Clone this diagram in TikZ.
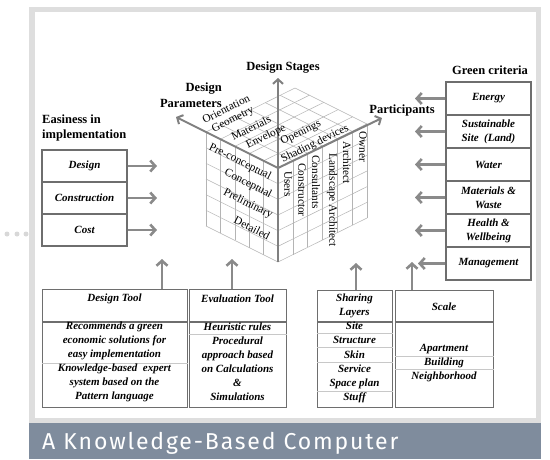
\documentclass[tikz,border=0pt]{standalone}
\usepackage{fontspec}
\setmainfont{Liberation Serif}
\newfontfamily\capfont{Fira Sans}[LetterSpace=8]
\usepackage{tikz}
\usetikzlibrary{calc}
\usetikzlibrary{arrows.meta}
\definecolor{boxgray}{HTML}{6E6E6E}
\definecolor{arrgray}{HTML}{8A8A8A}
\definecolor{axgray}{HTML}{808080}
\definecolor{cubegray}{HTML}{B4B4B4}
\definecolor{rulegray}{HTML}{C8C8C8}
\definecolor{framegray}{HTML}{DEDEDE}
\definecolor{bandblue}{HTML}{7F8C9D}
\definecolor{dotgray}{HTML}{D8D8D8}

\begin{document}
\begin{tikzpicture}[x=1pt, y=-1pt,
  hd/.style={font=\fontsize{12.5}{15.5}\selectfont\bfseries, align=center, inner sep=0pt},
  bi/.style={font=\fontsize{11}{14}\selectfont\bfseries\itshape, align=center, inner sep=0pt},
  cl/.style={font=\fontsize{11.3}{13}\selectfont, inner sep=0pt},
  crit/.style={draw=boxgray, line width=1.4pt, minimum width=85pt, minimum height=32pt, bi},
  tbox/.style={draw=boxgray, line width=1.4pt, anchor=north west, inner sep=0pt},
  garrow/.style={draw=arrgray, line width=2.6pt, -{Straight Barb[length=5pt,width=11pt]}},
  cubeaxis/.style={draw=axgray, line width=2pt, -{Straight Barb[length=4.5pt,width=10pt]}},
  cubeln/.style={draw=cubegray, line width=0.5pt},
  thinrl/.style={draw=rulegray, line width=0.6pt},
  boxrl/.style={draw=boxgray, line width=1.2pt}]

  \useasboundingbox (0,0) rectangle (550,459);
  \fill[framegray] (29,7) rectangle (541,459);
  \fill[white] (35,12) rectangle (536,418);
  \fill[bandblue] (29,423) rectangle (541,459);
  \fill[dotgray] (7,234) circle (2.5pt);
  \fill[dotgray] (17,234) circle (2.5pt);
  \fill[dotgray] (26,234) circle (2.5pt);

  \coordinate (o) at (278,168);
  \foreach \a in {0,...,5} {
    \draw[cubeln] ($(o)+\a*(-14.4,-7.2)$) -- ++(0,94);
    \draw[cubeln] ($(o)+\a*(-14.4,-7.2)$) -- ++(89,-44);
  }
  \foreach \b in {0,...,6} {
    \draw[cubeln] ($(o)+\b*(14.833,-7.333)$) -- ++(0,94);
    \draw[cubeln] ($(o)+\b*(14.833,-7.333)$) -- ++(-72,-36);
  }
  \foreach \c in {0,...,6} {
    \draw[cubeln] ($(o)+\c*(0,15.667)$) -- ++(-72,-36);
    \draw[cubeln] ($(o)+\c*(0,15.667)$) -- ++(89,-44);
  }

  \coordinate (stBase) at (278,262);
  \coordinate (stTip) at (278,78);
  \coordinate (paTip) at (176,117);
  \coordinate (ptTip) at (382,118);
  \draw[cubeaxis] (stBase) -- (stTip);
  \draw[cubeaxis] (o) -- (paTip);
  \draw[cubeaxis] (o) -- (ptTip);

  \node[cl, rotate=26.3] (orient) at (226,109) {Orientation};
  \node[cl, rotate=26.3] (geom) at (233,120) {Geometry};
  \node[cl, rotate=26.3] (mater) at (251,128) {Materials};
  \node[cl, rotate=26.3] (envel) at (266,137) {Envelope};
  \node[cl, rotate=26.3] (openg) at (301,133) {Openings};
  \node[cl, rotate=26.3] (shade) at (315,144) {Shading devices};

  \node[cl, rotate=-26.6] (precon) at (240,162) {Pre-conceptual};
  \node[cl, rotate=-26.6] (concep) at (248,184) {Conceptual};
  \node[cl, rotate=-26.6] (prelim) at (248,204) {Preliminary};
  \node[cl, rotate=-26.6] (detail) at (252,228) {Detailed};

  \node[cl, rotate=-90] (users) at (288,184) {Users};
  \node[cl, rotate=-90] (constru) at (302,190) {Constructor};
  \node[cl, rotate=-90] (consult) at (316,182) {Consultants};
  \node[cl, rotate=-90] (landsc) at (332,200) {Landscape Architect};
  \node[cl, rotate=-90] (archit) at (347,163) {Architect};
  \node[cl, rotate=-90] (owner) at (363,147) {Owner};

  \node[hd] (dstages) at (283,68) {Design Stages};
  \node[hd, align=right, anchor=east] (dparams) at (222,95) {Design\\Parameters};
  \node[hd] (parts) at (402,110) {Participants};
  \node[hd] (green) at (490,70) {Green criteria};
  \node[hd, align=left, anchor=west] (easy) at (42,128) {Easiness in\\implementation};

  \node[crit] (design) at (84.5,166) {Design};
  \node[crit] (constr) at (84.5,198) {Construction};
  \node[crit] (cost) at (84.5,230) {Cost};
  \coordinate (designTip) at (157,166);
  \coordinate (constrTip) at (157,198);
  \coordinate (costTip) at (157,230);
  \draw[garrow] (design.east) -- (designTip);
  \draw[garrow] (constr.east) -- (constrTip);
  \draw[garrow] (cost.east) -- (costTip);

  \node[crit, minimum height=33pt] (energy) at (488.5,98.5) {Energy};
  \node[crit, minimum height=33pt] (site) at (488.5,131.5) {Sustainable\\Site~ (Land)};
  \node[crit, minimum height=33pt] (water) at (488.5,164.5) {Water};
  \node[crit, minimum height=33pt] (matw) at (488.5,197.5) {Materials \&\\Waste};
  \node[crit, minimum height=33pt] (health) at (488.5,230.5) {Health \&\\Wellbeing};
  \node[crit, minimum height=33pt] (manag) at (488.5,263.5) {Management};
  \coordinate (energyTip) at (415,98.5);
  \coordinate (siteTip) at (415,131.5);
  \coordinate (waterTip) at (415,164.5);
  \coordinate (matwTip) at (415,197.5);
  \coordinate (healthTip) at (415,230.5);
  \coordinate (managTip) at (418,263.5);
  \draw[garrow] (energy.west) -- (energyTip);
  \draw[garrow] (site.west) -- (siteTip);
  \draw[garrow] (water.west) -- (waterTip);
  \draw[garrow] (matw.west) -- (matwTip);
  \draw[garrow] (health.west) -- (healthTip);
  \draw[garrow] (manag.west) -- (managTip);

  \node[tbox, minimum width=145pt, minimum height=118pt] (dtool) at (42,289) {};
  \draw[boxrl] ([yshift=-33pt]dtool.north west) -- ([yshift=-33pt]dtool.north east);
  \draw[thinrl] ([yshift=-74pt]dtool.north west) -- ([yshift=-74pt]dtool.north east);
  \node[bi] (dtoolHead) at (114.5,299) {Design Tool};
  \node[bi] (dtoolRec) at (114.5,341) {Recommends a green\\economic solutions for\\easy implementation};
  \node[bi] (dtoolKb) at (114.5,383) {Knowledge-based~ expert\\system based on the\\Pattern language};

  \node[tbox, minimum width=97pt, minimum height=118pt] (etool) at (189,289) {};
  \draw[boxrl] ([yshift=-33pt]etool.north west) -- ([yshift=-33pt]etool.north east);
  \draw[thinrl] ([yshift=-45pt]etool.north west) -- ([yshift=-45pt]etool.north east);
  \node[bi] (etoolHead) at (237.5,299) {Evaluation Tool};
  \node[bi] (etoolHeur) at (237.5,327) {Heuristic rules};
  \node[bi] (etoolProc) at (237.5,369) {Procedural\\approach based\\on Calculations\\\&\\Simulations};

  \node[tbox, minimum width=75pt, minimum height=117pt] (share) at (317,290) {};
  \draw[boxrl] ([yshift=-32pt]share.north west) -- ([yshift=-32pt]share.north east);
  \draw[thinrl] ([yshift=-43pt]share.north west) -- ([yshift=-43pt]share.north east);
  \draw[thinrl] ([yshift=-57pt]share.north west) -- ([yshift=-57pt]share.north east);
  \draw[thinrl] ([yshift=-72pt]share.north west) -- ([yshift=-72pt]share.north east);
  \draw[thinrl] ([yshift=-101pt]share.north west) -- ([yshift=-101pt]share.north east);
  \node[bi] (shareHead) at (354.5,306) {Sharing\\Layers};
  \node[bi, font=\fontsize{11}{14.2}\selectfont\bfseries\itshape] (shareRows) at (354.5,362.5) {Site\\Structure\\Skin\\Service\\Space plan\\Stuff};

  \node[tbox, minimum width=98pt, minimum height=117pt] (scale) at (395,290) {};
  \draw[boxrl] ([yshift=-32pt]scale.north west) -- ([yshift=-32pt]scale.north east);
  \draw[thinrl] ([yshift=-66pt]scale.north west) -- ([yshift=-66pt]scale.north east);
  \draw[thinrl] ([yshift=-79pt]scale.north west) -- ([yshift=-79pt]scale.north east);
  \node[bi] (scaleHead) at (444,307) {Scale};
  \node[bi] (scaleRows) at (444,363) {Apartment\\Building\\Neighborhood};

  \coordinate (dtoolTip) at (162,259);
  \coordinate (etoolTip) at (232,259);
  \coordinate (shareTip) at (356,263);
  \coordinate (scaleTip) at (412,262);
  \draw[garrow] (dtool.north -| dtoolTip) -- (dtoolTip);
  \draw[garrow] (etool.north -| etoolTip) -- (etoolTip);
  \draw[garrow] (share.north -| shareTip) -- (shareTip);
  \draw[garrow] (scale.north -| scaleTip) -- (scaleTip);

  \node[anchor=base west, text=white, inner sep=0pt, font=\capfont\fontsize{23}{25}\selectfont] (capt) at (42,449) {A Knowledge-Based Computer};
\end{tikzpicture}
\end{document}
